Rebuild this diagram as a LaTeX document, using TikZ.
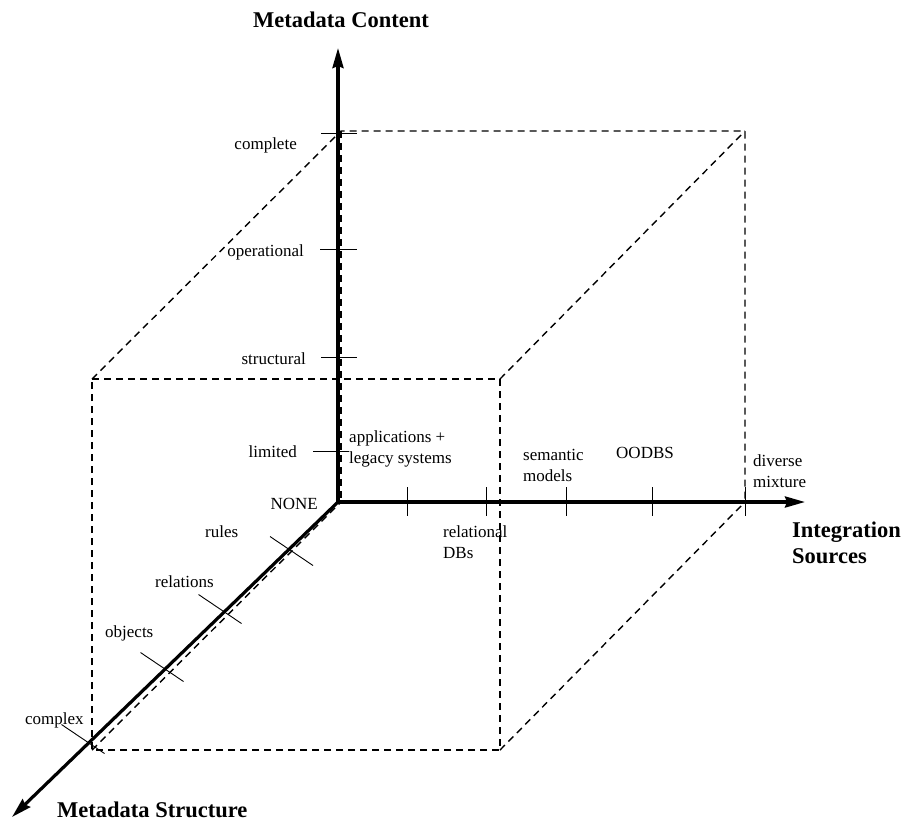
\documentclass[tikz,border=0pt]{standalone}
\usepackage{fontspec}
\setmainfont{Liberation Serif}
\usetikzlibrary{arrows.meta,calc}
\begin{document}
\begin{tikzpicture}[x=1pt,y=-1pt,
  axis/.style={line width=3.2pt,-{Stealth[length=20pt,width=11pt,inset=2pt]}},
  tickmark/.style={line width=0.9pt},
  cubeedge/.style={line width=1.4pt,dash pattern=on 7pt off 5pt},
  lbl/.style={font=\fontsize{17}{21}\selectfont,inner sep=0pt,align=left},
  ttl/.style={font=\fontsize{22.5}{26}\selectfont\bfseries,inner sep=0pt,align=left}]
\useasboundingbox (0,0) rectangle (904,823);

% origin and axis ends
\coordinate (O) at (338,502);
\coordinate (Ztop) at (338,48);
\coordinate (Xend) at (805,502);
\coordinate (Yend) at (12,817);

% dashed cube
\coordinate (A) at (92,379);
\coordinate (B) at (500,379);
\coordinate (C) at (500,750);
\coordinate (D) at (92,750);
\coordinate (E) at (341,131);
\coordinate (F) at (745,131);
\coordinate (G) at (745,502);
\coordinate (H) at (341,502);
\draw[cubeedge] (A) -- (B) -- (C) -- (D) -- cycle;
\draw[cubeedge] (A) -- (E) -- (F) -- (G);
\draw[cubeedge] (E) -- (H);
\draw[cubeedge] (B) -- (F);
\draw[cubeedge] (C) -- (G);
\draw[cubeedge] (D) -- (H);

% axes
\draw[axis] (O) -- (Ztop);
\draw[axis] (O) -- (Xend);
\draw[axis] (O) -- (Yend);

% ticks on the content axis
\draw[tickmark] (321,133) -- (357,133);
\draw[tickmark] (320,249) -- (357,249);
\draw[tickmark] (321,357) -- (357,357);
\draw[tickmark] (313,451) -- (349,451);

% ticks on the sources axis
\foreach \x in {407,486,566,652,745}
  \draw[tickmark] (\x,487) -- (\x,516);

% ticks on the structure axis
\foreach \cx/\cy in {291.5/551,220/609,162/667,83/739}
  \draw[tickmark] (\cx-21.5,\cy-14.5) -- (\cx+21.5,\cy+14.5);

% axis titles
\node[ttl,anchor=base] (tz) at (341,27) {Metadata Content};
\node[ttl,anchor=base west] (tx) at (792,563) {Integration\\Sources};
\node[ttl,anchor=base west] (ty) at (57,817) {Metadata Structure};

% content levels
\node[lbl,anchor=base east] (lc1) at (297,149) {complete};
\node[lbl,anchor=base east] (lc2) at (304,256) {operational};
\node[lbl,anchor=base east] (lc3) at (306,364) {structural};
\node[lbl,anchor=base east] (lc4) at (297,457) {limited};
\node[lbl,anchor=base east] (lc0) at (318,509) {NONE};

% source kinds (base anchor = last line)
\node[lbl,anchor=base west] (ls1) at (349,463) {applications +\\legacy systems};
\node[lbl,anchor=base west] (ls2) at (443,558) {relational\\DBs};
\node[lbl,anchor=base west] (ls3) at (523,481) {semantic\\models};
\node[lbl,anchor=base west] (ls4) at (616,458) {OODBS};
\node[lbl,anchor=base west] (ls5) at (753,487) {diverse\\mixture};

% structure kinds
\node[lbl,anchor=base west] (lt1) at (205,537) {rules};
\node[lbl,anchor=base west] (lt2) at (155,587) {relations};
\node[lbl,anchor=base west] (lt3) at (105,637) {objects};
\node[lbl,anchor=base west] (lt4) at (25,724) {complex};
\end{tikzpicture}
\end{document}
